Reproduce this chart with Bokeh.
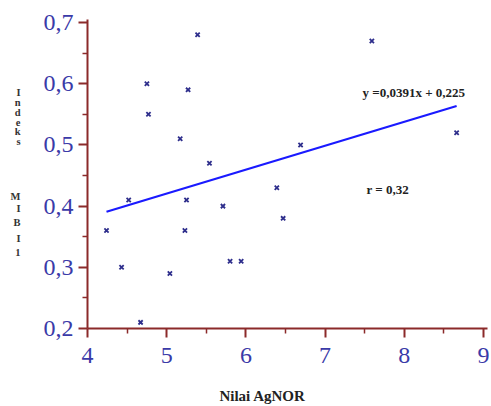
from bokeh.plotting import figure
from bokeh.models import (ColumnDataSource, Label, FixedTicker, LinearAxis,
                          CustomJSTickFormatter, Range1d)
from bokeh.embed import file_html
from bokeh.resources import INLINE

# ---- data ----
agnor = [4.24, 4.43, 4.52, 4.67, 4.75, 4.77, 5.04, 5.17, 5.23, 5.25, 5.27,
         5.39, 5.54, 5.71, 5.80, 5.94, 6.39, 6.47, 6.69, 7.59, 8.66]
mib1 = [0.36, 0.30, 0.41, 0.21, 0.60, 0.55, 0.29, 0.51, 0.36, 0.41, 0.59,
        0.68, 0.47, 0.40, 0.31, 0.31, 0.43, 0.38, 0.50, 0.67, 0.52]
slope = 0.0391
intercept = 0.225
x_ticks = [4, 5, 6, 7, 8, 9]
x_minor = [4.5, 5.5, 6.5, 7.5, 8.5]
y_ticks = [0.2, 0.3, 0.4, 0.5, 0.6, 0.7]
y_minor = [0.25, 0.35, 0.45, 0.55, 0.65]
eq_text = "y =0,0391x + 0,225"
r_text = "r = 0,32"
x_label = "Nilai AgNOR"
y_label_chars = ["I", "n", "d", "e", "k", "s", "M", "I", "B", "I", "1"]

# text placement (style, not data)
x_label_at = 6.21
y_label_at = [0.5856, 0.5693, 0.5529, 0.5366, 0.5219, 0.5056,
              0.4157, 0.3961, 0.3732, 0.3471, 0.3242]

SERIF = "Liberation Serif"
AXIS_COL = "#8B2A2A"
TICK_COL = "#3a3aa8"
TEXT_COL = "#222222"

p = figure(width=491, height=406, output_backend="svg", toolbar_location=None,
           x_range=Range1d(4, 9.05), y_range=Range1d(0.2, 0.705),
           min_border_left=87, min_border_right=4, min_border_top=19,
           min_border_bottom=78)
p.outline_line_color = None
p.grid.visible = False
p.background_fill_color = "white"

for ax in (p.xaxis[0], p.yaxis[0]):
    ax.axis_line_color = AXIS_COL
    ax.axis_line_width = 2
    ax.major_tick_line_color = AXIS_COL
    ax.major_tick_line_width = 2
    ax.minor_tick_line_color = AXIS_COL
    ax.minor_tick_line_width = 1.5
    ax.major_tick_in = 0
    ax.minor_tick_in = 0
    ax.major_tick_out = 9
    ax.minor_tick_out = 5
    ax.major_label_text_font = SERIF
    ax.major_label_text_font_size = "24px"
    ax.major_label_text_color = TICK_COL

p.xaxis.ticker = FixedTicker(ticks=x_ticks, minor_ticks=x_minor)
p.yaxis.ticker = FixedTicker(ticks=y_ticks, minor_ticks=y_minor)
p.xaxis.formatter = CustomJSTickFormatter(code="return tick.toFixed(0);")
p.yaxis.formatter = CustomJSTickFormatter(
    code="return tick.toFixed(1).replace('.', ',');")
p.xaxis.major_label_standoff = 10
p.yaxis.major_label_standoff = 5

# stacked y-axis title: letters on an extra, invisible left axis
ya2 = LinearAxis(
    ticker=FixedTicker(ticks=y_label_at, minor_ticks=[]),
    formatter=CustomJSTickFormatter(
        args=dict(ys=y_label_at, chars=y_label_chars),
        code="const i = ys.findIndex(v => Math.abs(v - tick) < 1e-6);"
             "return i >= 0 ? chars[i] : '';"),
    axis_line_color=None, major_tick_line_color=None,
    minor_tick_line_color=None, major_tick_out=0, major_tick_in=0,
    major_label_standoff=20, major_label_text_font=SERIF,
    major_label_text_font_style="bold", major_label_text_font_size="10.5px",
    major_label_text_color="#333333")
p.add_layout(ya2, "left")

# x-axis title on an extra, invisible axis placed left of centre
xa2 = LinearAxis(
    ticker=FixedTicker(ticks=[x_label_at], minor_ticks=[]),
    formatter=CustomJSTickFormatter(args=dict(lab=x_label),
                                    code="return lab;"),
    axis_line_color=None, major_tick_line_color=None,
    minor_tick_line_color=None, major_tick_out=0, major_tick_in=0,
    major_label_standoff=22, major_label_text_font=SERIF,
    major_label_text_font_style="bold", major_label_text_font_size="15px",
    major_label_text_color=TEXT_COL)
p.add_layout(xa2, "below")

src = ColumnDataSource(dict(x=agnor, y=mib1))
p.scatter("x", "y", source=src, marker="x", size=6, line_color="#2e2e8c",
          line_width=1.8)

x0, x1 = min(agnor), max(agnor)
p.line([x0, x1], [slope * x0 + intercept, slope * x1 + intercept],
       line_color="#1a1aff", line_width=2.2)

p.add_layout(Label(x=8.12, y=0.586, text=eq_text, text_font=SERIF,
                   text_font_style="bold", text_font_size="13px",
                   text_color=TEXT_COL, text_align="center",
                   text_baseline="middle"))
p.add_layout(Label(x=7.79, y=0.427, text=r_text, text_font=SERIF,
                   text_font_style="bold", text_font_size="13px",
                   text_color=TEXT_COL, text_align="center",
                   text_baseline="middle"))

open("out.html", "w").write(file_html(p, INLINE))
